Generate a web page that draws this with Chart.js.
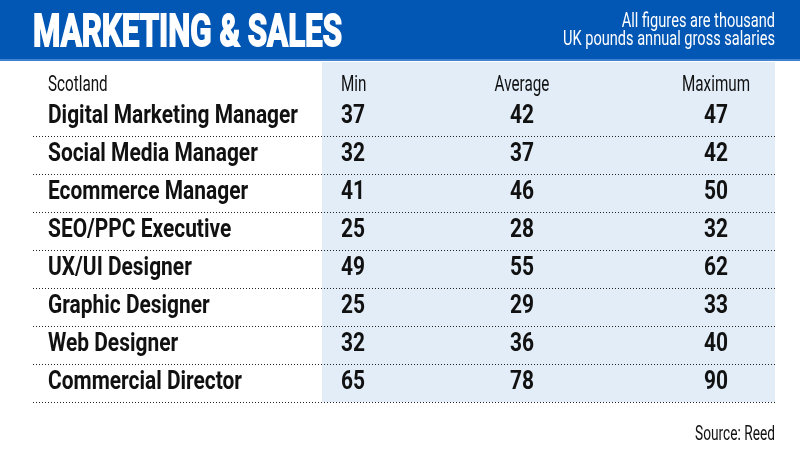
<!DOCTYPE html>
<html>
<head>
<meta charset="utf-8">
<script src="https://cdn.jsdelivr.net/npm/chart.js@4"></script>
<style>
	html, body { margin: 0; padding: 0; background: #fff; }
	canvas { display: block; }
</style>
</head>
<body>
<canvas id="chart-area" width="800" height="450"></canvas>
<script>
/*
 * 表格数据。
 */
var title = "MARKETING & SALES";
var noteLines = [ "All figures are thousand", "UK pounds annual gross salaries" ];
var source = "Source: Reed";
var region = "Scotland";
var columns = [ "Min", "Average", "Maximum" ];
var jobs = [ "Digital Marketing Manager", "Social Media Manager", "Ecommerce Manager",
	"SEO/PPC Executive", "UX/UI Designer", "Graphic Designer", "Web Designer", "Commercial Director" ];
var minValues = [ 37, 32, 41, 25, 49, 25, 32, 65 ];
var avgValues = [ 42, 37, 46, 28, 55, 29, 36, 78 ];
var maxValues = [ 47, 42, 50, 32, 62, 33, 40, 90 ];

/*
 * 版式：列在隐藏 x 轴 (0-100) 上的位置。
 */
var colAnchor = [ 41.5, 65.9, 92.05 ];
var colAlign = [ "left", "center", "center" ];
var panelStart = 38.95;
var face = "Roboto, 'Noto Sans', sans-serif";
var ink = "#111111";

function squeezeText(ctx, text, x, y, scale, align) {
	ctx.save();
	ctx.translate(x, y);
	ctx.scale(scale, 1);
	ctx.textAlign = align;
	ctx.fillText(text, 0, 0);
	ctx.restore();
}

var tablePlugin = {
	id : 'tablePlugin',
	beforeDraw : function(chart) {
		var ctx = chart.ctx, area = chart.chartArea, xs = chart.scales.x;
		ctx.save();
		ctx.fillStyle = "#ffffff";
		ctx.fillRect(0, 0, chart.width, chart.height);
		// 标题栏
		ctx.fillStyle = "#0257b5";
		ctx.fillRect(0, 0, chart.width, 60);
		ctx.fillStyle = "#3f82d2";
		ctx.fillRect(0, 59, chart.width, 2);

		ctx.fillStyle = "#ffffff";
		ctx.strokeStyle = "#ffffff";
		ctx.textBaseline = "alphabetic";
		ctx.font = "bold 45px " + face;
		var tw = ctx.measureText(title).width;
		ctx.save();
		ctx.translate(33, 46);
		ctx.scale(309 / tw, 1);
		ctx.lineWidth = 1.8;
		ctx.fillText(title, 0, 0);
		ctx.strokeText(title, 0, 0);
		ctx.restore();

		ctx.font = "21px " + face;
		var nw = ctx.measureText(noteLines[1]).width;
		var ns = 212 / nw;
		squeezeText(ctx, noteLines[0], 775, 27, ns, "right");
		squeezeText(ctx, noteLines[1], 775, 45, ns, "right");

		// 浅蓝底
		var px = xs.getPixelForValue(panelStart);
		ctx.fillStyle = "#e2edf8";
		ctx.fillRect(px, area.top - 36, area.right - px, area.bottom - area.top + 36);

		// 来源
		ctx.fillStyle = ink;
		ctx.font = "21px " + face;
		var sw = ctx.measureText(source).width;
		squeezeText(ctx, source, 775, 440, 80 / sw, "right");
		ctx.restore();
	},
	afterDatasetsDraw : function(chart) {
		var ctx = chart.ctx, area = chart.chartArea, ys = chart.scales.y;
		ctx.save();
		ctx.fillStyle = ink;
		ctx.textBaseline = "middle";

		// 表头
		ctx.font = "22px " + face;
		var hs = 68 / ctx.measureText(columns[2]).width;
		squeezeText(ctx, region, area.left + 15, area.top - 13, hs, "left");

		// 职位名称（按 y 轴位置）
		ctx.font = "bold 25px " + face;
		var bs = 250 / ctx.measureText(jobs[0]).width;
		jobs.forEach(function(job, i) {
			squeezeText(ctx, job, area.left + 15, ys.getPixelForValue(i), bs, "left");
		});

		chart.data.datasets.forEach(function(ds, k) {
			var meta = chart.getDatasetMeta(k);
			ctx.font = "22px " + face;
			squeezeText(ctx, ds.label, meta.data[0].x, area.top - 13, hs, colAlign[k]);
			ctx.font = "bold 25px " + face;
			meta.data.forEach(function(pt, i) {
				squeezeText(ctx, String(ds.values[i]), pt.x, pt.y, bs, colAlign[k]);
			});
		});
		ctx.restore();
	}
};

function columnData(k) {
	return jobs.map(function(job) {
		return { x : colAnchor[k], y : job };
	});
}

var config = {
	type : 'scatter',
	data : {
		datasets : [
			{ label : columns[0], values : minValues, data : columnData(0) },
			{ label : columns[1], values : avgValues, data : columnData(1) },
			{ label : columns[2], values : maxValues, data : columnData(2) }
		]
	},
	options : {
		responsive : false,
		animation : false,
		events : [],
		layout : { padding : { left : 33, right : 25, top : 98, bottom : 48 } },
		elements : { point : { radius : 0, hoverRadius : 0 } },
		plugins : { legend : { display : false }, tooltip : { enabled : false } },
		scales : {
			x : { type : 'linear', min : 0, max : 100, display : false },
			y : {
				type : 'category',
				labels : jobs,
				offset : true,
				afterFit : function(scale) { scale.width = 0; },
				ticks : { display : false },
				grid : {
					offset : true,
					drawTicks : false,
					lineWidth : 1,
					color : function(c) { return c.index === 0 ? 'rgba(0,0,0,0)' : '#222222'; }
				},
				border : { display : false, dash : [ 1, 2 ] }
			}
		}
	},
	plugins : [ tablePlugin ]
};

window.onload = function() {
	var ctx = document.getElementById('chart-area').getContext('2d');
	window.myTable = new Chart(ctx, config);
};
</script>
</body>
</html>
